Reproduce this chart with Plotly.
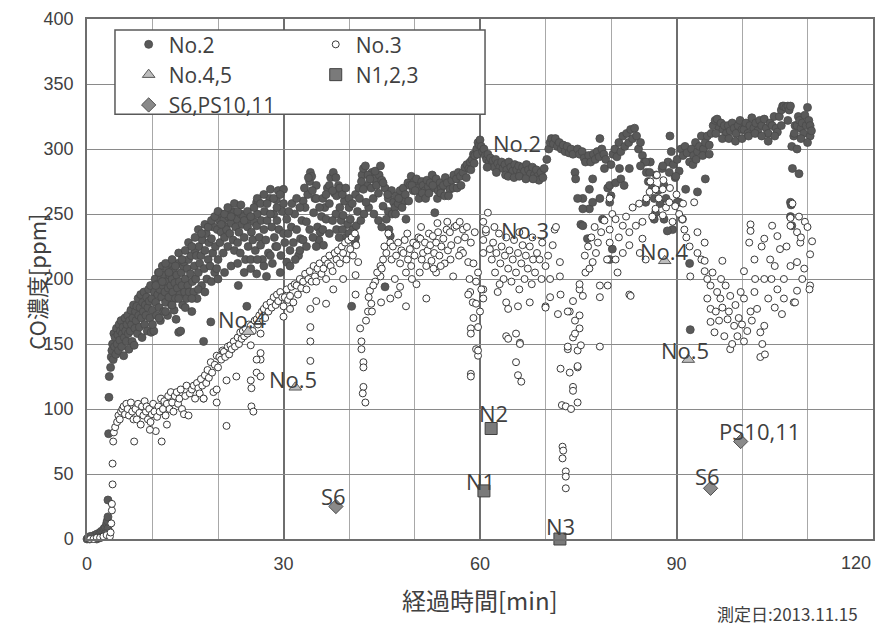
import plotly.graph_objects as go

# ---------------- data (x = elapsed min, y = CO ppm) ----------------
NO2 = [
    (0.0, 0), (0.2, 1), (0.4, 0), (0.6, 1), (0.8, 2), (1.0, 1), (1.2, 3), (1.4, 2), (1.6, 4), (1.8, 3),
    (2.0, 5), (2.2, 6), (2.4, 5), (2.6, 8), (2.8, 9), (3.0, 12), (3.1, 14), (3.2, 17), (1.5, 0), (2.0, 1),
    (2.5, 2), (3.0, 4), (3.2, 8), (0.5, 2), (2.8, 4),
    (3.2, 30), (3.3, 81), (3.35, 109), (3.4, 125),
    (3.6, 132), (3.7, 140), (3.8, 145), (3.9, 150), (4.0, 138), (4.1, 158), (4.2, 148), (4.3, 155), (4.4, 142),
    (4.5, 162), (4.6, 150), (4.7, 157), (4.8, 145), (4.9, 165), (5.0, 153), (5.1, 160), (5.2, 168), (5.3, 148),
    (5.4, 158), (5.5, 163), (5.6, 141), (5.7, 155), (5.8, 170), (5.9, 160), (6.0, 152), (6.1, 165), (6.2, 172),
    (6.3, 158), (6.4, 146), (6.5, 168), (6.6, 160), (6.7, 176), (6.8, 165), (6.9, 152), (7.0, 170), (7.1, 180),
    (7.2, 149), (7.3, 162), (7.4, 175), (7.5, 168), (7.6, 179), (7.7, 158), (7.8, 185), (7.9, 172), (8.0, 163),
    (8.1, 178), (8.2, 188), (8.3, 170), (8.4, 155), (8.5, 182), (8.6, 175), (8.7, 190), (8.8, 165), (8.9, 180),
    (9.0, 172), (9.1, 186), (9.2, 160), (9.3, 178), (9.4, 192), (9.5, 183), (9.6, 170), (9.7, 195), (9.8, 159),
    (9.9, 185), (10.0, 176),
    (10.2, 160), (10.3, 190), (10.4, 200), (10.5, 182), (10.6, 172), (10.7, 196), (10.8, 188), (10.9, 205),
    (11.0, 178), (11.1, 192), (11.2, 168), (11.3, 200), (11.4, 186), (11.5, 210), (11.6, 195), (11.7, 175),
    (11.8, 203), (11.9, 190), (12.0, 182), (12.1, 198), (12.2, 208), (12.3, 172), (12.4, 193), (12.5, 186),
    (12.6, 203), (12.7, 212), (12.8, 195), (12.9, 180), (13.0, 200), (13.1, 190), (13.2, 207), (13.3, 176),
    (13.4, 197), (13.5, 185), (13.6, 169), (13.7, 203), (13.8, 193), (13.9, 212), (14.0, 159), (14.1, 198),
    (14.2, 188), (14.3, 160), (14.4, 205), (14.5, 195), (14.6, 180), (14.7, 210), (14.8, 213), (14.9, 190),
    (15.0, 200), (15.2, 185), (15.3, 208), (15.4, 195), (15.5, 215), (15.6, 190), (15.8, 204), (15.9, 218),
    (16.0, 175), (16.1, 198), (16.3, 190), (16.4, 210), (16.5, 222), (16.6, 200), (16.7, 218), (16.8, 185),
    (17.0, 205), (17.1, 225), (17.2, 212), (17.4, 218), (17.5, 195), (17.6, 230), (17.8, 152), (17.9, 208),
    (18.0, 222), (18.2, 235), (18.3, 200), (18.5, 215), (18.6, 228), (18.8, 210), (18.9, 167), (19.0, 231),
    (19.2, 220), (19.3, 240), (19.5, 205), (19.6, 225), (19.8, 208), (19.9, 238),
    (20.0, 215), (20.2, 245), (20.3, 228), (20.5, 236), (20.6, 250), (20.8, 220), (20.9, 246), (21.0, 232),
    (21.2, 240), (21.3, 238), (21.5, 225), (21.6, 248), (21.8, 235), (22.0, 243), (22.1, 252), (22.3, 230),
    (22.4, 251), (22.5, 222), (22.7, 240), (22.9, 246), (23.0, 228), (23.1, 195), (23.2, 236), (23.4, 220),
    (23.5, 250), (23.7, 242), (23.9, 248), (24.0, 232), (24.2, 215), (24.4, 179), (24.5, 240), (24.6, 225),
    (24.8, 246), (25.0, 215), (25.1, 236), (25.3, 230), (25.5, 244), (25.7, 222),
    (25.9, 204), (25.9, 241), (25.9, 259), (26.0, 250), (26.2, 259), (26.3, 232), (26.5, 226), (26.6, 245),
    (26.8, 215), (27.0, 238), (27.1, 252), (27.3, 230), (27.4, 202), (27.5, 245), (27.7, 220), (27.9, 262),
    (28.0, 269), (28.2, 240), (28.3, 212), (28.5, 250), (28.6, 232), (28.8, 225), (28.9, 261), (29.0, 245),
    (29.2, 268), (29.3, 238), (29.5, 205), (29.6, 218), (29.8, 252), (30.0, 269),
    (10.5, 195), (11.0, 205), (11.5, 198), (12.0, 212), (12.5, 205), (13.0, 215), (13.5, 210), (14.0, 220),
    (14.5, 215), (15.0, 222), (15.5, 228), (16.0, 225), (16.5, 232), (17.0, 238), (17.5, 235), (18.0, 242),
    (18.5, 240), (19.0, 245), (19.5, 248), (20.0, 252), (20.5, 242), (21.0, 250), (21.5, 255), (22.0, 248),
    (22.5, 258), (23.0, 252), (23.5, 257), (24.0, 245), (24.5, 252), (25.0, 248), (25.5, 255), (26.0, 262),
    (26.5, 258), (27.0, 265), (27.5, 258), (28.0, 250), (28.5, 262), (29.0, 255), (29.5, 265), (30.0, 258),
    (10.0, 165), (11.0, 170), (12.0, 175), (13.0, 180), (14.0, 185), (15.0, 178), (16.0, 185), (17.0, 192),
    (18.0, 190), (19.0, 198), (20.0, 200), (21.0, 205), (22.0, 210), (23.0, 212), (24.0, 205), (25.0, 208),
    (26.0, 215), (27.0, 210), (28.0, 218), (29.0, 225), (30.0, 235),
    (30.2, 228), (30.5, 246), (30.5, 213), (30.7, 235), (31.0, 222), (31.2, 240), (31.5, 228), (31.7, 250),
    (32.0, 238), (32.3, 218), (32.6, 231), (32.8, 245), (33.0, 260), (33.3, 255), (33.5, 244), (33.7, 265),
    (34.0, 275), (34.1, 282), (34.3, 279), (34.6, 251), (34.8, 262), (35.0, 272), (35.2, 240), (35.4, 230),
    (35.6, 236), (35.8, 248), (36.1, 226), (36.3, 255), (36.5, 246), (36.7, 270), (37.0, 258), (37.2, 278),
    (37.6, 282), (37.8, 266), (38.0, 250), (38.1, 264), (38.1, 238), (38.4, 272), (38.6, 255), (38.8, 245),
    (39.1, 249), (39.3, 260), (39.5, 232), (39.8, 242), (40.0, 255), (40.2, 246), (40.4, 179), (40.6, 238),
    (40.9, 228), (41.1, 241), (41.3, 252),
    (30.8, 252), (31.3, 258), (32.0, 262), (32.5, 255), (33.2, 270), (33.8, 278), (34.4, 268), (35.0, 262),
    (35.5, 255), (36.0, 262), (36.5, 265), (37.0, 272), (37.5, 268), (38.0, 278), (38.6, 270), (39.0, 265),
    (39.5, 270), (40.0, 262), (40.5, 258), (41.0, 265), (41.5, 270), (42.0, 280), (42.8, 272), (43.5, 282),
    (44.0, 276), (44.6, 280), (45.5, 270), (46.0, 262), (46.5, 268),
    (31.0, 210), (31.8, 215), (32.5, 222), (33.0, 230), (33.5, 225), (34.0, 238), (34.5, 232), (35.0, 225),
    (36.0, 238), (37.0, 235), (37.5, 245), (38.5, 232), (39.0, 238), (40.0, 235), (41.0, 232), (41.8, 245),
    (42.3, 250), (43.0, 255), (43.8, 250), (44.5, 245), (45.0, 240), (46.0, 252),
    (41.6, 262), (41.9, 275), (42.2, 285), (42.2, 269), (42.5, 287), (42.6, 259), (42.9, 280), (43.2, 277),
    (43.4, 270), (43.7, 262), (44.0, 283), (44.2, 272), (44.5, 266), (44.8, 287), (45.0, 276), (45.2, 274),
    (45.2, 256), (45.5, 194), (45.7, 246), (45.9, 265), (46.1, 238), (46.3, 233), (46.6, 250), (46.8, 259),
    (47.0, 255), (47.2, 264), (47.5, 258), (47.8, 268), (48.0, 262), (48.3, 270), (48.5, 260), (48.7, 246),
    (49.0, 274), (49.3, 272), (49.5, 279), (49.8, 268), (50.0, 275), (50.3, 277), (50.6, 270), (50.9, 265),
    (51.1, 275), (51.3, 272), (51.6, 268), (51.9, 276), (52.1, 271), (52.4, 274), (52.7, 280), (53.0, 270),
    (53.1, 251), (53.3, 277), (53.6, 268), (53.9, 274), (54.1, 270), (54.4, 272), (54.7, 278), (55.0, 274),
    (55.4, 269), (55.7, 276), (56.0, 280), (56.4, 277), (56.7, 282), (57.0, 279), (57.4, 282), (57.7, 286),
    (58.0, 288), (58.3, 285), (58.5, 290), (58.8, 292), (59.0, 296), (59.2, 295), (59.5, 300), (59.7, 305),
    (59.9, 303),
    (47.1, 250), (47.6, 262), (48.1, 255), (48.6, 265), (49.1, 260), (49.6, 272), (50.1, 268), (50.7, 262),
    (51.2, 266), (51.7, 262), (52.2, 266), (52.8, 272), (53.5, 262), (54.0, 266), (54.6, 264), (55.2, 264),
    (55.9, 270), (56.5, 270), (57.1, 272), (57.9, 278), (58.6, 284), (59.1, 289), (59.6, 296),
    (60.0, 307), (60.2, 302), (60.4, 298), (60.6, 300), (60.8, 295), (61.0, 292), (61.2, 296), (61.4, 290),
    (61.6, 293), (61.8, 288), (62.0, 291), (62.2, 286), (62.4, 292), (62.7, 289), (63.0, 286), (63.3, 290),
    (63.5, 285), (63.8, 288), (64.1, 284), (64.4, 290), (64.7, 286), (65.0, 283), (65.3, 288), (65.6, 284),
    (65.9, 287), (66.2, 282), (66.5, 286), (66.8, 283), (67.1, 288), (67.4, 284), (67.7, 281), (68.0, 286),
    (68.3, 280), (68.6, 284), (68.8, 279), (69.0, 276), (69.3, 282), (69.6, 278), (69.8, 285),
    (61.1, 286), (62.5, 282), (63.9, 280), (64.3, 279), (65.2, 278), (66.0, 279), (67.0, 277), (68.1, 277),
    (70.2, 292), (70.5, 300), (70.7, 305), (70.9, 308), (71.2, 304), (71.5, 308), (71.8, 302), (72.1, 305),
    (72.4, 300), (72.7, 303), (73.0, 298), (73.3, 302), (73.6, 297), (73.9, 300), (74.2, 296), (74.5, 282),
    (74.9, 300), (75.2, 296), (75.4, 242), (75.6, 298), (75.9, 293), (76.1, 290), (76.4, 231), (76.6, 295),
    (76.7, 254), (76.9, 290), (77.2, 259), (77.3, 296), (77.6, 292), (77.9, 298), (78.2, 294), (78.3, 308),
    (78.6, 300), (78.9, 296), (79.0, 285), (79.2, 292), (79.5, 270), (79.8, 215), (80.0, 288), (80.2, 223),
    (80.3, 296),
    (74.6, 277), (75.7, 262), (76.7, 269), (77.2, 277), (78.3, 262), (75.7, 254), (79.8, 272), (80.7, 274),
    (81.3, 285), (82.8, 285), (75.7, 241), (79.8, 259), (78.7, 246), (81.5, 277), (82.0, 272), (80.0, 264),
    (74.9, 262),
    (80.6, 300), (80.9, 294), (81.2, 305), (81.5, 298), (81.8, 310), (82.1, 302), (82.4, 312), (82.7, 305),
    (83.0, 315), (83.3, 308), (83.6, 316), (83.9, 310), (84.2, 300), (84.5, 305), (84.8, 295), (85.1, 290),
    (85.4, 282), (85.7, 275), (86.0, 290), (86.3, 270), (86.6, 262), (86.9, 280), (87.2, 268), (87.5, 258),
    (87.8, 285), (88.1, 272), (88.4, 262), (88.7, 290), (89.0, 310), (89.2, 298), (89.5, 288), (89.8, 278),
    (90.1, 292), (90.4, 283), (90.7, 300), (91.0, 295), (91.3, 302), (91.6, 297),
    (85.3, 290), (85.9, 282), (87.9, 287), (88.9, 282), (89.9, 279), (85.3, 259), (86.8, 251), (88.1, 246),
    (89.4, 238), (90.9, 246), (90.4, 259), (91.4, 269), (88.6, 237), (92.0, 212), (92.1, 161), (86.6, 246),
    (90.1, 259), (84.5, 287),
    (92.0, 290), (92.3, 300), (92.6, 295), (92.9, 305), (93.2, 298), (93.2, 267), (93.5, 302), (93.8, 310),
    (94.1, 300), (94.4, 277), (94.4, 305), (94.7, 310), (95.0, 303), (95.3, 312), (95.6, 318), (95.9, 322),
    (96.2, 323), (96.5, 316), (96.8, 320), (97.1, 315), (97.3, 318), (97.6, 312), (97.9, 318), (98.2, 314),
    (98.5, 320), (98.8, 316), (99.1, 312), (99.4, 318), (99.7, 322), (100.0, 315), (100.3, 315), (100.6, 320),
    (100.9, 312), (101.2, 318), (101.5, 324), (101.8, 316), (102.1, 320), (102.4, 314), (102.7, 322),
    (103.0, 318), (103.4, 323), (103.7, 316), (104.0, 312), (104.3, 320), (104.6, 318), (104.9, 325),
    (105.2, 316), (105.4, 313), (105.7, 325), (106.0, 330), (106.2, 333), (106.4, 333), (106.7, 332),
    (107.0, 333), (107.2, 330), (107.4, 333), (107.6, 302), (107.7, 285), (107.4, 259), (107.5, 257),
    (107.4, 248), (107.6, 241), (107.9, 310), (108.1, 318), (108.4, 318), (108.4, 300), (108.6, 325),
    (108.7, 281), (108.8, 322), (109.0, 316), (109.2, 320), (109.4, 312), (109.6, 326), (109.8, 318),
    (110.0, 332), (110.2, 322), (110.4, 318), (110.4, 310), (110.6, 314),
    (92.5, 288), (93.0, 292), (94.0, 295), (95.0, 296), (96.0, 312), (97.0, 308), (98.0, 308), (99.0, 306),
    (100.0, 308), (101.0, 310), (102.0, 312), (103.0, 310), (104.0, 306), (105.0, 310), (106.0, 318),
    (107.0, 322), (108.0, 312), (109.0, 308), (110.0, 305),
]

NO3 = [
    (0.5, 0), (1.0, 0), (1.5, 1), (2.0, 1), (2.5, 2), (3.0, 3), (3.5, 2), (3.6, 5), (3.7, 12), (3.8, 22),
    (3.8, 27), (3.9, 42), (3.9, 58), (4.0, 75),
    (4.1, 82), (4.3, 86), (4.6, 90), (4.8, 95), (5.0, 92), (5.2, 98), (5.4, 100), (5.6, 102), (5.8, 96),
    (6.0, 104), (6.2, 100), (6.4, 95), (6.7, 105), (6.9, 98), (7.1, 92), (7.2, 75), (7.4, 100), (7.6, 92),
    (7.8, 104), (8.0, 97), (8.2, 88), (8.4, 102), (8.6, 95), (8.8, 106), (9.0, 98), (9.1, 102), (9.3, 92),
    (9.5, 100), (9.7, 90), (9.9, 96), (10.1, 104), (10.3, 98), (10.5, 83), (10.7, 94), (10.9, 102),
    (11.1, 98), (11.3, 108), (11.4, 75), (11.6, 100), (11.8, 106), (12.0, 95), (12.2, 104), (12.4, 110),
    (12.6, 100), (12.8, 113), (13.0, 105), (13.2, 98), (13.4, 110), (13.7, 113), (13.9, 104), (14.1, 108),
    (14.3, 115), (14.5, 100), (14.8, 96), (15.0, 110), (15.2, 118), (15.5, 95), (15.7, 112), (16.0, 115),
    (16.3, 118), (16.5, 108), (16.8, 120), (17.0, 116), (17.2, 112), (17.4, 123), (17.6, 118), (17.8, 108),
    (18.0, 126), (18.2, 120), (18.4, 130), (18.6, 124), (18.9, 136), (19.1, 128), (19.3, 113), (19.5, 134),
    (19.8, 141), (19.8, 105), (20.0, 132), (20.2, 140), (20.5, 138), (20.7, 145), (20.9, 144), (21.1, 140),
    (21.3, 87), (21.5, 148), (21.7, 142), (21.9, 149), (22.1, 146), (22.4, 152), (22.6, 148), (22.8, 125),
    (23.0, 155), (23.2, 150), (23.4, 159), (23.6, 154), (23.8, 160), (24.0, 156), (24.2, 162), (24.5, 158),
    (24.7, 165), (25.0, 164), (25.0, 149), (25.0, 122), (25.1, 116), (25.1, 102), (25.4, 98), (25.3, 160),
    (25.6, 168), (25.9, 169), (25.9, 128), (26.1, 165), (26.3, 172), (26.5, 158), (26.5, 138), (26.5, 143),
    (26.7, 175), (27.0, 177), (27.2, 170), (27.4, 180), (27.7, 175), (28.0, 182), (28.2, 178), (28.5, 186),
    (28.8, 180), (29.0, 188), (29.2, 183), (29.5, 190), (29.8, 186),
    (21.3, 122), (19.8, 115), (17.8, 108), (25.9, 138), (26.5, 125), (12.2, 88), (9.6, 84),
    (30.0, 179), (30.2, 186), (30.5, 192), (30.7, 184), (31.0, 187), (31.2, 194), (31.5, 182), (31.7, 196),
    (32.0, 195), (32.2, 188), (32.5, 200), (32.7, 193), (33.0, 198), (33.3, 204), (33.5, 192), (33.8, 200),
    (34.0, 206), (34.3, 198), (34.6, 210), (34.8, 202), (35.0, 198), (35.2, 208), (35.5, 212), (35.8, 204),
    (36.1, 208), (36.3, 215), (36.5, 200), (36.8, 212), (37.0, 218), (37.2, 210), (37.5, 206), (37.8, 220),
    (38.1, 215), (38.3, 222), (38.6, 212), (38.9, 225), (39.1, 220), (39.4, 228), (39.6, 215), (39.9, 230),
    (40.2, 223), (40.4, 232), (40.6, 218), (40.9, 235), (41.1, 226), (41.4, 213), (41.0, 203), (41.0, 188),
    (30.0, 171), (31.0, 177), (34.1, 177), (34.1, 163), (34.1, 152), (34.1, 137), (36.5, 181), (35.0, 183),
    (37.6, 192), (39.1, 200),
    (41.7, 162), (41.9, 152), (41.9, 146), (42.2, 136), (42.2, 132), (42.2, 117), (42.1, 112), (42.5, 105),
    (42.6, 168), (42.9, 175), (43.4, 181), (43.5, 175), (43.2, 191), (44.0, 198), (44.8, 210), (45.2, 215),
    (44.8, 202), (45.7, 220), (46.3, 228), (46.0, 235), (44.9, 182), (46.3, 185), (47.5, 188), (47.8, 194),
    (43.0, 186), (43.7, 195), (44.3, 205), (45.0, 208), (46.7, 225), (45.4, 225), (46.5, 215),
    (47.2, 218), (47.5, 228), (47.8, 212), (48.0, 222), (48.3, 220), (48.5, 230), (48.7, 205), (48.7, 179),
    (49.0, 215), (49.3, 223), (49.5, 210), (49.8, 228), (50.0, 218), (50.3, 226), (50.3, 196), (50.6, 232),
    (50.9, 231), (51.1, 215), (51.3, 220), (51.6, 228), (51.8, 210), (51.8, 185), (52.0, 222), (52.2, 235),
    (52.4, 226), (52.6, 214), (52.8, 233), (53.0, 220), (53.3, 228), (53.3, 205), (53.6, 236), (53.8, 218),
    (54.1, 225), (54.4, 231), (54.6, 212), (54.9, 238), (55.1, 222), (55.4, 236), (55.6, 226), (55.9, 202),
    (56.1, 240), (56.4, 241), (56.6, 230), (56.9, 244), (57.1, 222), (57.4, 238), (57.4, 220), (57.7, 232),
    (58.0, 240), (58.2, 213), (58.5, 190), (58.6, 228), (58.9, 182), (59.2, 236), (59.4, 198), (59.7, 205),
    (58.4, 200), (59.0, 212), (47.0, 200), (49.6, 200), (50.8, 205), (52.9, 208), (54.0, 210), (55.5, 215),
    (56.8, 218), (48.9, 235), (51.0, 240), (53.5, 243), (55.0, 244),
    (58.6, 162), (59.7, 163), (59.4, 146), (59.7, 141), (58.6, 127), (58.6, 125), (60.5, 185), (60.5, 192),
    (60.9, 236), (60.5, 220), (61.2, 251), (60.5, 244), (60.9, 238), (60.5, 230), (61.5, 223), (59.7, 145),
    (58.6, 158), (59.4, 181), (60.2, 192), (58.2, 188), (59.0, 170), (60.0, 175),
    (61.8, 215), (62.0, 228), (62.3, 205), (62.5, 220), (62.7, 190), (62.9, 235), (63.1, 212), (63.3, 225),
    (63.6, 200), (63.8, 218), (64.0, 182), (64.0, 232), (64.3, 208), (64.3, 177), (64.5, 222), (64.8, 198),
    (65.0, 215), (65.2, 230), (65.5, 205), (65.8, 179), (65.8, 220), (66.0, 192), (66.3, 212), (66.5, 226),
    (66.8, 200), (67.0, 218), (67.3, 208), (67.6, 225), (67.6, 182), (67.9, 196), (68.1, 215), (68.4, 205),
    (68.7, 220), (69.1, 215), (69.4, 200), (70.0, 210), (70.0, 179), (70.7, 200), (70.7, 186), (71.1, 226),
    (71.4, 238), (71.6, 240), (72.2, 213), (72.2, 202), (72.3, 188), (71.9, 173), (70.0, 178), (62.2, 240),
    (63.0, 196), (66.0, 236), (68.0, 232), (69.5, 228), (70.4, 218),
    (64.0, 156), (65.5, 158), (66.1, 151), (65.5, 136), (65.8, 126), (66.3, 121), (64.3, 154), (66.1, 150),
    (73.7, 175), (74.5, 168), (75.2, 172), (75.2, 162), (74.2, 155), (73.4, 146), (74.9, 145), (72.3, 131),
    (73.7, 128), (74.9, 132), (74.2, 117), (74.2, 114), (72.5, 103), (73.1, 102), (73.9, 100), (74.9, 105),
    (72.6, 71), (72.7, 68), (72.6, 62), (73.1, 52), (73.1, 48), (73.1, 39), (73.4, 175), (74.5, 158),
    (75.4, 149), (73.4, 148), (74.9, 133), (78.3, 148),
    (74.2, 183), (75.7, 187), (75.2, 192), (75.2, 196), (76.1, 205), (76.7, 208), (77.2, 213), (77.7, 220),
    (76.0, 218), (78.3, 195), (79.5, 195), (78.3, 186), (76.5, 225), (77.0, 232), (77.5, 240), (78.0, 228),
    (78.5, 236), (79.0, 245), (79.4, 215), (79.8, 228), (79.8, 238), (79.8, 262), (80.2, 250), (80.7, 246),
    (80.7, 215), (81.2, 232), (81.8, 241), (81.8, 220), (82.3, 248), (82.8, 236), (82.8, 226), (82.8, 188),
    (83.3, 255), (83.8, 241), (84.3, 258), (84.4, 220), (84.8, 244), (84.8, 231), (85.3, 215), (85.4, 262),
    (85.9, 267), (86.3, 248), (86.8, 269), (86.8, 254), (87.3, 262), (87.9, 269), (87.9, 249), (88.4, 255),
    (88.9, 259), (89.4, 244), (89.8, 256), (90.4, 250), (90.9, 246), (91.2, 238), (83.0, 187), (81.0, 205),
    (86.0, 275), (87.0, 280), (88.0, 276), (89.0, 270), (90.0, 265), (91.0, 258),
    (91.5, 232), (92.0, 225), (92.1, 202), (92.7, 259), (93.2, 236), (93.2, 220), (94.3, 228), (93.8, 215),
    (94.3, 214), (94.3, 206), (94.7, 200), (95.2, 195), (94.7, 185), (95.2, 177), (95.2, 167), (96.2, 190),
    (96.7, 185), (97.0, 214), (95.8, 159), (97.8, 169), (98.8, 164), (99.3, 156), (97.3, 156), (98.2, 146),
    (98.5, 150), (98.2, 187), (100.3, 152), (101.3, 175), (100.3, 185), (101.9, 190), (102.3, 177),
    (103.4, 164), (102.8, 159), (103.1, 150), (102.8, 140), (103.5, 142), (103.4, 200), (105.4, 192),
    (106.4, 185), (107.9, 182), (106.4, 200), (107.4, 210), (108.4, 213), (109.5, 208), (110.4, 195),
    (108.9, 228), (110.4, 219), (108.4, 236), (107.4, 241), (107.4, 247), (104.6, 241), (105.4, 233),
    (105.8, 223), (104.3, 215), (103.4, 231), (101.3, 242), (101.3, 237), (101.1, 228), (101.9, 215),
    (100.3, 206), (107.7, 258), (108.7, 248), (109.6, 244), (110.7, 229), (110.3, 192), (109.2, 200),
    (108.4, 191), (108.1, 182), (106.1, 173), (96.0, 175), (96.5, 168), (97.0, 178), (97.5, 195), (98.0, 175),
    (99.0, 180), (99.5, 170), (100.0, 165), (100.8, 160), (101.5, 168), (102.0, 200), (104.0, 185),
    (104.5, 200), (105.0, 178), (106.8, 225), (109.0, 232), (110.0, 240), (105.0, 210), (103.0, 225),
    (99.8, 190), (96.8, 200), (95.5, 205),
]

NO45_X = [24.6, 31.8, 88.2, 91.8]
NO45_Y = [159.5, 116.7, 214, 138]
NO45_LBL = ["No.4", "No.5", "No.4", "No.5"]

N_X = [60.6, 61.7, 72.2]
N_Y = [37, 85, 0]
N_LBL = ["N1", "N2", "N3"]

S_X = [38.0, 95.2, 99.8]
S_Y = [25, 39, 75]
S_LBL = ["S6", "S6", "PS10,11"]

X_TICKS = [0, 30, 60, 90, 120]
X_TICK_LABELS = ["0", "30", "60", "90", "120"]
Y_TICKS = [0, 50, 100, 150, 200, 250, 300, 350, 400]

# label offsets in pixels (dx, dy) for the point labels
NO45_OFF = [(-6, 13), (-2, 8), (0, 10), (-3, 10)]
N_OFF = [(-3, 10), (2, 16), (1, 13)]
S_OFF = [(-2, 11), (-3, 12), (19, 11)]

TXT = "#404040"
LBL_FONT = dict(family="Open Sans, sans-serif", size=22, color=TXT)
LEG_FONT = dict(family="Open Sans, sans-serif", size=21, color=TXT)
TICK_FONT = dict(family="Liberation Sans Narrow, Arial Narrow, sans-serif", size=18, color=TXT)

fig = go.Figure()
fig.add_trace(go.Scatter(
    x=[p[0] for p in NO2], y=[p[1] for p in NO2], mode="markers", name="No.2",
    marker=dict(size=8, color="#595959", line=dict(color="#4a4a4a", width=0.8)),
    cliponaxis=False, legend="legend"))
fig.add_trace(go.Scatter(
    x=[p[0] for p in NO3], y=[p[1] for p in NO3], mode="markers", name="No.3",
    marker=dict(size=7, color="white", line=dict(color="#3a3a3a", width=1)),
    cliponaxis=False, legend="legend2"))
fig.add_trace(go.Scatter(
    x=NO45_X, y=NO45_Y, mode="markers", name="No.4,5",
    marker=dict(symbol="triangle-up", size=11, color="#bdbdbd", line=dict(color="#595959", width=1)),
    cliponaxis=False, legend="legend"))
fig.add_trace(go.Scatter(
    x=N_X, y=N_Y, mode="markers", name="N1,2,3",
    marker=dict(symbol="square", size=12, color="#7a7a7a", line=dict(color="#404040", width=1)),
    cliponaxis=False, legend="legend2"))
fig.add_trace(go.Scatter(
    x=S_X, y=S_Y, mode="markers", name="S6,PS10,11",
    marker=dict(symbol="diamond", size=11, color="#8a8a8a", line=dict(color="#505050", width=1)),
    cliponaxis=False, legend="legend"))

annotations = []
for xs, ys, lbls, offs in [(NO45_X, NO45_Y, NO45_LBL, NO45_OFF), (N_X, N_Y, N_LBL, N_OFF),
                           (S_X, S_Y, S_LBL, S_OFF)]:
    for x, y, t, (dx, dy) in zip(xs, ys, lbls, offs):
        annotations.append(dict(x=x, y=y, text=t, showarrow=False, xanchor="center", yanchor="middle",
                                xshift=dx, yshift=dy, font=LBL_FONT))
annotations.append(dict(x=65.6, y=305, text="No.2", showarrow=False, font=LBL_FONT))
annotations.append(dict(x=66.9, y=238, text="No.3", showarrow=False, font=LBL_FONT))

# last x tick label: drawn right-aligned to the chart edge, as in the original
annotations.append(dict(x=X_TICKS[-1], y=-0.0462, yref="paper", text=X_TICK_LABELS[-1], showarrow=False,
                        xanchor="right", yanchor="middle", font=TICK_FONT))

annotations.append(dict(xref="paper", yref="paper", x=0.5, y=-0.117, text="経過時間[min]", showarrow=False,
                        xanchor="center", yanchor="middle",
                        font=dict(family="Noto Sans CJK JP", size=24, color=TXT)))
annotations.append(dict(xref="paper", yref="paper", x=-0.066, y=0.495, text="CO濃度[ppm]", showarrow=False,
                        textangle=-90, xanchor="center", yanchor="middle",
                        font=dict(family="Noto Sans CJK JP", size=22, color=TXT)))
annotations.append(dict(xref="paper", yref="paper", x=0.983, y=-0.144, text="測定日:2013.11.15", showarrow=False,
                        xanchor="right", yanchor="middle",
                        font=dict(family="Noto Sans CJK JP", size=17, color=TXT)))

# The page body has an 8px margin, so the figure is sized to fit the 889x628 window.
fig.update_layout(
    width=881, height=620,
    margin=dict(l=79, r=16, t=11, b=89, autoexpand=False),
    paper_bgcolor="white", plot_bgcolor="white",
    annotations=annotations,
    shapes=[dict(type="rect", xref="paper", yref="paper", x0=0.0356, x1=0.5064, y0=0.817, y1=0.979,
                 fillcolor="white", line=dict(color="#595959", width=1.5), layer="above")],
    legend=dict(x=0.053, y=0.99, xanchor="left", yanchor="top", bgcolor="rgba(0,0,0,0)", borderwidth=0,
                font=LEG_FONT, itemwidth=30, tracegroupgap=0),
    legend2=dict(x=0.291, y=0.99, xanchor="left", yanchor="top", bgcolor="rgba(0,0,0,0)", borderwidth=0,
                 font=LEG_FONT, itemwidth=30, tracegroupgap=0),
    xaxis=dict(range=[0, 120], tickvals=X_TICKS, ticktext=X_TICK_LABELS[:-1] + [""], ticks="", showgrid=True,
               gridcolor="#6e6e6e", gridwidth=1.5,
               minor=dict(dtick=10, tick0=0, showgrid=True, gridcolor="#a8a8a8", gridwidth=1.3),
               showline=True, mirror=True, linecolor="#6e6e6e", linewidth=1.5, zeroline=False,
               tickfont=TICK_FONT, ticklabelstandoff=8, automargin=False, fixedrange=True),
    yaxis=dict(range=[0, 400], tickvals=Y_TICKS, ticks="", showgrid=True, gridcolor="#8a8a8a", gridwidth=1.3,
               showline=True, mirror=True, linecolor="#6e6e6e", linewidth=1.5, zeroline=False,
               tickfont=TICK_FONT, ticklabelstandoff=8, automargin=False, fixedrange=True),
    showlegend=True,
)

fig.write_html("out.html",
               post_script="document.documentElement.style.overflow='hidden';"
                           "document.body.style.overflow='hidden';")
